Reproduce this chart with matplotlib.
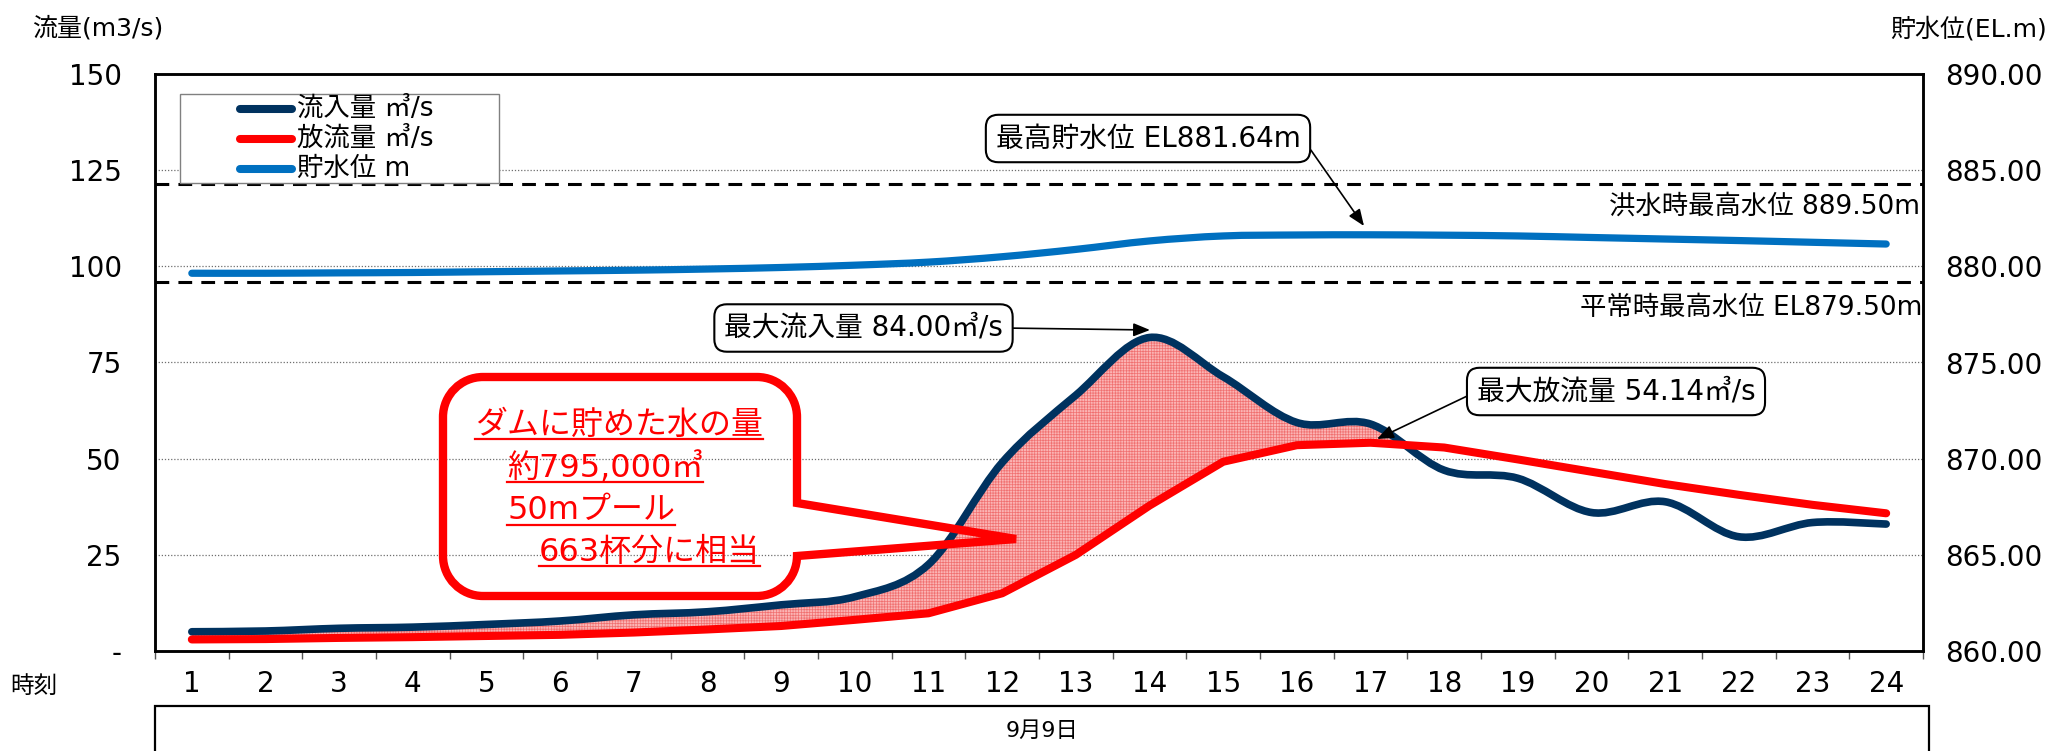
import numpy as np
import matplotlib
matplotlib.use('Agg')
import matplotlib.pyplot as plt
import matplotlib.transforms as mtransforms
from matplotlib.path import Path
from matplotlib.patches import PathPatch, Rectangle
from matplotlib.lines import Line2D

plt.rcParams['font.family'] = ['DejaVu Sans', 'Noto Sans CJK JP']

# ---- data ----
hours = list(range(1, 25))
inflow = [5.0, 5.2, 5.9, 6.2, 6.9, 7.8, 9.4, 10.2, 12.0, 14.1, 22.5, 49.0,
          66.5, 81.5, 71.3, 59.4, 59.0, 47.0, 44.9, 36.0, 38.8, 29.7, 33.4, 33.0]
outflow = [3.0, 3.1, 3.4, 3.6, 3.9, 4.2, 4.8, 5.6, 6.5, 8.1, 9.8, 15.0,
           25.0, 37.8, 49.2, 53.5, 54.14, 52.9, 49.8, 46.6, 43.4, 40.6, 38.0, 35.8]
level = [879.64, 879.64, 879.66, 879.68, 879.72, 879.76, 879.80, 879.86,
         879.94, 880.06, 880.22, 880.50, 880.88, 881.32, 881.58, 881.63,
         881.64, 881.62, 881.58, 881.50, 881.42, 881.34, 881.25, 881.16]
flood_line = 884.26    # dashed line as drawn (洪水時最高水位)
normal_line = 879.20   # dashed line as drawn (平常時最高水位)

flow_ticks = [0, 25, 50, 75, 100, 125, 150]
level_ticks = [860, 865, 870, 875, 880, 885, 890]

labels = ['流入量 ㎥/s', '放流量 ㎥/s', '貯水位 m']
c_in, c_out, c_lv = '#00325f', '#ff0000', '#0070c0'

W, H = 2053, 751
def fx(x): return x / W
def fy(y): return 1 - y / H


def smooth_path(x, y):
    # catmull-rom -> cubic bezier, like excel's smoothed line
    pts = np.column_stack([x, y]).astype(float)
    n = len(pts)
    verts, codes = [pts[0]], [Path.MOVETO]
    for i in range(n - 1):
        p0, p1 = pts[max(i - 1, 0)], pts[i]
        p2, p3 = pts[i + 1], pts[min(i + 2, n - 1)]
        verts += [p1 + (p2 - p0) / 6, p2 - (p3 - p1) / 6, p2]
        codes += [Path.CURVE4] * 3
    return verts, codes


fig = plt.figure(figsize=(W / 100, H / 100), dpi=100)
ax = fig.add_axes([fx(155), fy(651), (1923 - 155) / W, (651 - 74) / H])
ax2 = ax.twinx()

ax.set_xlim(0.5, 24.5)
ax.set_ylim(0, 150)
ax2.set_ylim(860, 890)

ax.grid(axis='y', color='#6f6f6f', lw=0.9, ls=(0, (1, 1.5)))
ax.set_axisbelow(True)

# stored water area between inflow and outflow
v, c = smooth_path(hours, inflow)
under_in = Path(v + [(hours[-1], 0), (hours[0], 0), (0, 0)],
                c + [Path.LINETO, Path.LINETO, Path.CLOSEPOLY])
clip = PathPatch(under_in, transform=ax.transData)
plt.rcParams['hatch.linewidth'] = 0.5
plt.rcParams['hatch.color'] = '#f07070'
area = ax.fill_between(hours, outflow, 150, facecolor='#fbb4b4',
                       hatch='++++++', linewidth=0, zorder=2)
area.set_clip_path(clip)

ax.add_patch(PathPatch(Path(v, c), fill=False, edgecolor=c_in, lw=5.5,
                       capstyle='round', joinstyle='round', zorder=3))
ax.plot(hours, outflow, color=c_out, lw=5.8, solid_capstyle='round',
        solid_joinstyle='round', zorder=4)

v2, c2 = smooth_path(hours, level)
ax2.add_patch(PathPatch(Path(v2, c2), fill=False, edgecolor=c_lv, lw=5.2,
                        capstyle='round', zorder=3))
ax2.axhline(flood_line, color='black', lw=2.2, ls=(0, (4.5, 3)))
ax2.axhline(normal_line, color='black', lw=2.2, ls=(0, (4.5, 3)))

# axes / ticks
ax.set_xticks(hours)
ax.set_xticklabels([str(h) for h in hours])
ax.set_xticks([h - 0.5 for h in hours] + [24.5], minor=True)
ax.tick_params(axis='x', which='major', length=0, pad=14, labelsize=20)
ax.tick_params(axis='x', which='minor', length=6, width=1, color='#555555')
ax.set_yticks(flow_ticks)
ax.set_yticklabels(['-' if t == 0 else str(t) for t in flow_ticks])
ax.tick_params(axis='y', length=0, pad=24, labelsize=20)
ax2.set_yticks(level_ticks)
ax2.set_yticklabels([f'{t:.2f}' for t in level_ticks])
ax2.tick_params(axis='y', length=0, pad=16, labelsize=20)
for a in (ax, ax2):
    for s in a.spines.values():
        s.set_linewidth(1.8)
        s.set_color('black')

# axis titles
fig.text(fx(32), fy(28), '流量(m3/s)', ha='left', va='center', fontsize=18)
fig.text(fx(1890), fy(29), '貯水位(EL.m)', ha='left', va='center', fontsize=18)
fig.text(fx(34), fy(686), '時刻', ha='center', va='center', fontsize=17)

# date box under the axis
fig.add_artist(Rectangle((fx(155), fy(780)), (1929 - 155) / W, 74 / H,
                         fill=False, ec='black', lw=1.6))
fig.text(fx(1042), fy(731), '9月9日', ha='center', va='center', fontsize=16)

# legend (drawn by hand to match spacing)
fig.add_artist(Rectangle((fx(180), fy(183)), (499 - 180) / W, (183 - 94) / H,
                         fc='white', ec='#808080', lw=1, zorder=5))
for i, (lab, col) in enumerate(zip(labels, [c_in, c_out, c_lv])):
    yy = 109 + 30 * i
    fig.add_artist(Line2D([fx(240), fx(292)], [fy(yy), fy(yy)], color=col,
                          lw=5.8, solid_capstyle='round', zorder=6))
    fig.text(fx(297), fy(yy), lab, ha='left', va='center', fontsize=19, zorder=6)

# reference line labels
fig.text(fx(1920), fy(207), '洪水時最高水位 889.50m', ha='right', va='center', fontsize=19)
fig.text(fx(1922), fy(308), '平常時最高水位 EL879.50m', ha='right', va='center', fontsize=19)

# callouts with arrows
box = dict(boxstyle='round,pad=0.35,rounding_size=0.45', fc='white', ec='black', lw=1.5)
def callout(text, xy, xytext, relpos):
    ax2.annotate(text, xy=(xy[0], H - xy[1]), xycoords='figure pixels',
                 xytext=(xytext[0], H - xytext[1]), textcoords='figure pixels',
                 ha='center', va='center', fontsize=20, bbox=box, zorder=8,
                 arrowprops=dict(arrowstyle='-|>,head_length=0.5,head_width=0.2',
                                 color='black', lw=1.2, relpos=relpos,
                                 shrinkA=0, shrinkB=0))

callout('最高貯水位 EL881.64m', (1364, 226), (1148, 138.5), (1, 0.62))
callout('最大流入量 84.00㎥/s', (1150, 330), (863.5, 328), (1, 0.5))
callout('最大放流量 54.14㎥/s', (1377, 439), (1616, 391.5), (0, 0.5))

# red speech balloon (pixel coordinates)
L, R, T, B, r = 443, 797, 377, 596, 40
k = 0.5523 * r
pv = [(R, 503), (R, T + r), (R, T + r - k), (R - r + k, T), (R - r, T),
      (L + r, T), (L + r - k, T), (L, T + r - k), (L, T + r),
      (L, B - r), (L, B - r + k), (L + r - k, B), (L + r, B),
      (R - r, B), (R - r + k, B), (R, B - r + k), (R, B - r),
      (1016, 539), (R, 503), (R, 503)]
pc = [Path.MOVETO, Path.LINETO, Path.CURVE4, Path.CURVE4, Path.CURVE4,
      Path.LINETO, Path.CURVE4, Path.CURVE4, Path.CURVE4,
      Path.LINETO, Path.CURVE4, Path.CURVE4, Path.CURVE4,
      Path.LINETO, Path.CURVE4, Path.CURVE4, Path.CURVE4,
      Path.LINETO, Path.LINETO, Path.CLOSEPOLY]
px2fig = mtransforms.Affine2D().scale(1 / W, -1 / H).translate(0, 1) + fig.transFigure
fig.add_artist(PathPatch(Path(pv, pc), fill=False, ec='#ff0000', lw=6,
                         joinstyle='miter', transform=px2fig, zorder=7))

lines = [('ダムに貯めた水の量', 475, 425), ('約795,000㎥', 507, 468),
         ('50mプール', 507, 511), ('663杯分に相当', 539, 552)]
texts = [fig.text(fx(x), fy(y), s, ha='left', va='center', fontsize=23,
                  color='#ff0000', zorder=8) for s, x, y in lines]
fig.canvas.draw()
rend = fig.canvas.get_renderer()
for t, (s, x, y) in zip(texts, lines):
    bb = t.get_window_extent(renderer=rend)
    uy = H - (y + 14)
    fig.add_artist(Line2D([bb.x0, bb.x1], [uy, uy], color='#ff0000', lw=1.6,
                          transform=mtransforms.IdentityTransform(), zorder=8))

fig.savefig('out.png', dpi=100)
